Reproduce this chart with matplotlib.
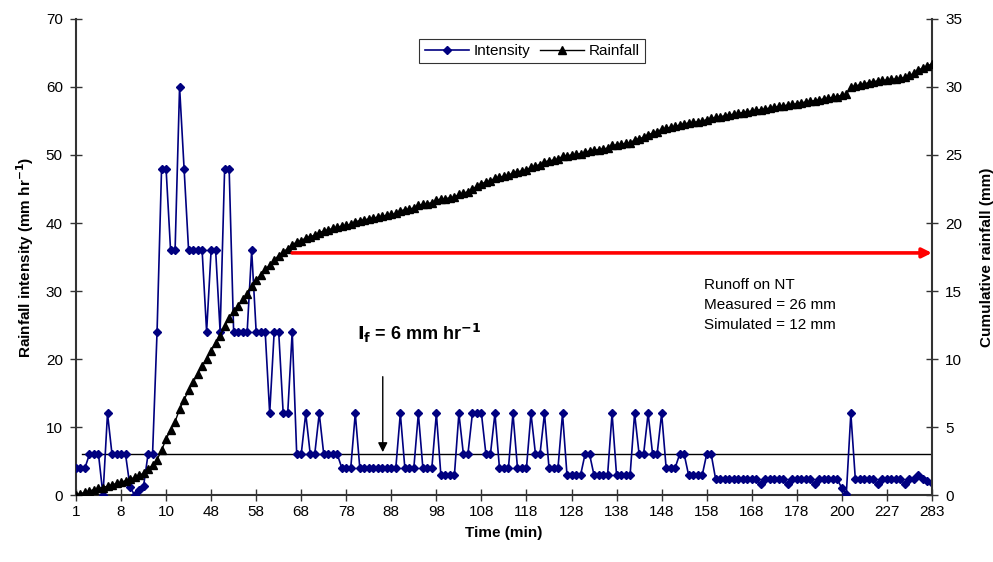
import matplotlib
matplotlib.use("Agg")
import matplotlib.pyplot as plt

plt.rcParams['font.family'] = ['Liberation Sans', 'DejaVu Sans']

# Rainfall intensity (mm/hr) per recorded step
intensity = [
    4, 4, 4, 6, 6, 6, 0, 12, 6, 6,
    6, 6, 1.2, 0, 0.8, 1.3, 6, 6, 24, 48,
    48, 36, 36, 60, 48, 36, 36, 36, 36, 24,
    36, 36, 24, 48, 48, 24, 24, 24, 24, 36,
    24, 24, 24, 12, 24, 24, 12, 12, 24, 6,
    6, 12, 6, 6, 12, 6, 6, 6, 6, 4,
    4, 4, 12, 4, 4, 4, 4, 4, 4, 4,
    4, 4, 12, 4, 4, 4, 12, 4, 4, 4,
    12, 2.9, 2.9, 2.9, 2.9, 12, 6, 6, 12, 12,
    12, 6, 6, 12, 4, 4, 4, 12, 4, 4,
    4, 12, 6, 6, 12, 4, 4, 4, 12, 2.9,
    2.9, 2.9, 2.9, 6, 6, 2.9, 2.9, 2.9, 2.9, 12,
    2.9, 2.9, 2.9, 2.9, 12, 6, 6, 12, 6, 6,
    12, 4, 4, 4, 6, 6, 2.9, 2.9, 2.9, 2.9,
    6, 6, 2.3, 2.3, 2.3, 2.3, 2.3, 2.3, 2.3, 2.3,
    2.3, 2.3, 1.6, 2.3, 2.3, 2.3, 2.3, 2.3, 1.6, 2.3,
    2.3, 2.3, 2.3, 2.3, 1.6, 2.3, 2.3, 2.3, 2.3, 2.3,
    1.0, 0.2, 12, 2.3, 2.3, 2.3, 2.3, 2.3, 1.6, 2.3,
    2.3, 2.3, 2.3, 2.3, 1.6, 2.3, 2.3, 2.9, 2.3, 2.0,
    1.7,
]

# Cumulative rainfall (mm) per recorded step
rainfall = [
    0.0, 0.1, 0.2, 0.3, 0.4, 0.5, 0.55, 0.65, 0.75, 0.85,
    0.95, 1.05, 1.15, 1.3, 1.45, 1.6, 1.9, 2.2, 2.6, 3.3,
    4.1, 4.8, 5.4, 6.3, 7.0, 7.7, 8.3, 8.9, 9.5, 10.0,
    10.6, 11.2, 11.7, 12.4, 13.0, 13.5, 13.9, 14.4, 14.8, 15.4,
    15.8, 16.2, 16.6, 16.9, 17.3, 17.6, 17.9, 18.1, 18.4, 18.6,
    18.7, 18.9, 19.0, 19.1, 19.3, 19.4, 19.5, 19.6, 19.7, 19.77,
    19.83, 19.9, 20.1, 20.17, 20.23, 20.3, 20.37, 20.43, 20.5, 20.57,
    20.63, 20.7, 20.9, 20.97, 21.03, 21.1, 21.3, 21.37, 21.43, 21.5,
    21.7, 21.75, 21.8, 21.85, 21.9, 22.1, 22.2, 22.3, 22.5, 22.7,
    22.9, 23.0, 23.1, 23.3, 23.37, 23.43, 23.5, 23.7, 23.77, 23.83,
    23.9, 24.1, 24.2, 24.3, 24.5, 24.57, 24.63, 24.7, 24.9, 24.95,
    25.0, 25.05, 25.1, 25.2, 25.3, 25.35, 25.4, 25.45, 25.5, 25.7,
    25.75, 25.8, 25.85, 25.9, 26.1, 26.2, 26.3, 26.5, 26.6, 26.7,
    26.9, 26.97, 27.03, 27.1, 27.2, 27.3, 27.35, 27.4, 27.45, 27.5,
    27.6, 27.7, 27.76, 27.82, 27.88, 27.94, 28.0, 28.06, 28.12, 28.18,
    28.24, 28.3, 28.33, 28.39, 28.45, 28.51, 28.57, 28.63, 28.66, 28.72,
    28.78, 28.84, 28.9, 28.96, 29.0, 29.06, 29.12, 29.18, 29.24, 29.3,
    29.4, 29.45, 30.0, 30.08, 30.16, 30.24, 30.32, 30.4, 30.44, 30.48,
    30.52, 30.56, 30.6, 30.64, 30.7, 30.85, 31.0, 31.25, 31.4, 31.55,
    31.7,
]

# Time labels shown every tenth step
time_labels = ['1', '8', '10', '48', '58', '68', '78', '88', '98', '108',
               '118', '128', '138', '148', '158', '168', '178', '200', '227', '283']
label_every = 10

infiltration_rate = 6      # mm/hr
runoff_onset_rain = 17.8   # mm, level of the red arrow
runoff_onset_step = 48

steps = list(range(len(intensity)))

fig = plt.figure(figsize=(9.93, 5.62), dpi=100)
ax = fig.add_axes([0.0765, 0.1192, 0.862, 0.847])
ax2 = ax.twinx()

axis_color = '#333333'
navy = '#000080'

ax.plot(steps, intensity, color=navy, lw=1.2, marker='D', ms=4.4,
        mfc=navy, mec=navy, label='Intensity', zorder=3)
ax2.plot(steps, rainfall, color='black', lw=1.0, marker='^', ms=5.7,
         mfc='black', mec='black', label='Rainfall', zorder=3)

ax.set_xlim(0, len(steps) - 1)
ax.set_ylim(0, 70)
ax2.set_ylim(0, 35)
ax.set_yticks(range(0, 71, 10))
ax2.set_yticks(range(0, 36, 5))
ax.set_xticks(steps[::label_every])
ax.set_xticklabels(time_labels)

for a in (ax, ax2):
    a.spines['top'].set_visible(False)
    for s in ('left', 'right', 'bottom'):
        a.spines[s].set_color(axis_color)
        a.spines[s].set_linewidth(1.5)
    a.tick_params(direction='inout', length=9, width=1.0, color=axis_color,
                  labelsize=11, labelcolor='black')
ax.spines['right'].set_visible(False)
ax2.spines['left'].set_visible(False)
ax2.spines['bottom'].set_visible(False)
ax.tick_params(axis='x', pad=3)
ax.tick_params(axis='y', pad=5)
ax2.tick_params(axis='y', pad=5)

ax.set_xlabel('Time (min)', fontsize=11, fontweight='bold', labelpad=5)
ax.set_ylabel('Rainfall intensity (mm hr$^{\\mathbf{-1}}$)', fontsize=11,
              fontweight='bold', labelpad=7)
ax2.set_ylabel('Cumulative rainfall (mm)', fontsize=11, fontweight='bold',
               labelpad=13)

# Infiltration threshold line
ax.axhline(infiltration_rate, xmin=0.007, xmax=1.0, color='black', lw=1.0, zorder=2)

# Runoff period arrow
ax2.annotate('', xy=(len(steps) - 1, runoff_onset_rain),
             xytext=(runoff_onset_step, runoff_onset_rain),
             arrowprops=dict(arrowstyle='-|>', color='red', lw=2.6,
                             mutation_scale=14, shrinkA=0, shrinkB=0),
             zorder=4)

# Threshold label with arrow
ax.text(62.4, 23.8, '$\\mathbf{I_f}$ = 6 mm hr$^{\\mathbf{-1}}$', fontsize=13,
        fontweight='bold', ha='left', va='center')
ax.annotate('', xy=(68.1, 6.3), xytext=(68.1, 17.4),
            arrowprops=dict(arrowstyle='-|>', color='black', lw=1.0,
                            mutation_scale=14, shrinkA=0, shrinkB=0))

ax.text(139.4, 27.9, 'Runoff on NT\nMeasured = 26 mm\nSimulated = 12 mm',
        fontsize=11, ha='left', va='center', linespacing=1.55)

h1, l1 = ax.get_legend_handles_labels()
h2, l2 = ax2.get_legend_handles_labels()
leg = ax2.legend(h1 + h2, l1 + l2, loc='center', bbox_to_anchor=(0.533, 0.933),
                 ncol=2, frameon=True, fancybox=False, fontsize=11,
                 handlelength=2.9, columnspacing=0.6, handletextpad=0.3,
                 borderpad=0.35, edgecolor='black')
leg.get_frame().set_linewidth(0.8)

fig.savefig('out.png', dpi=100)
